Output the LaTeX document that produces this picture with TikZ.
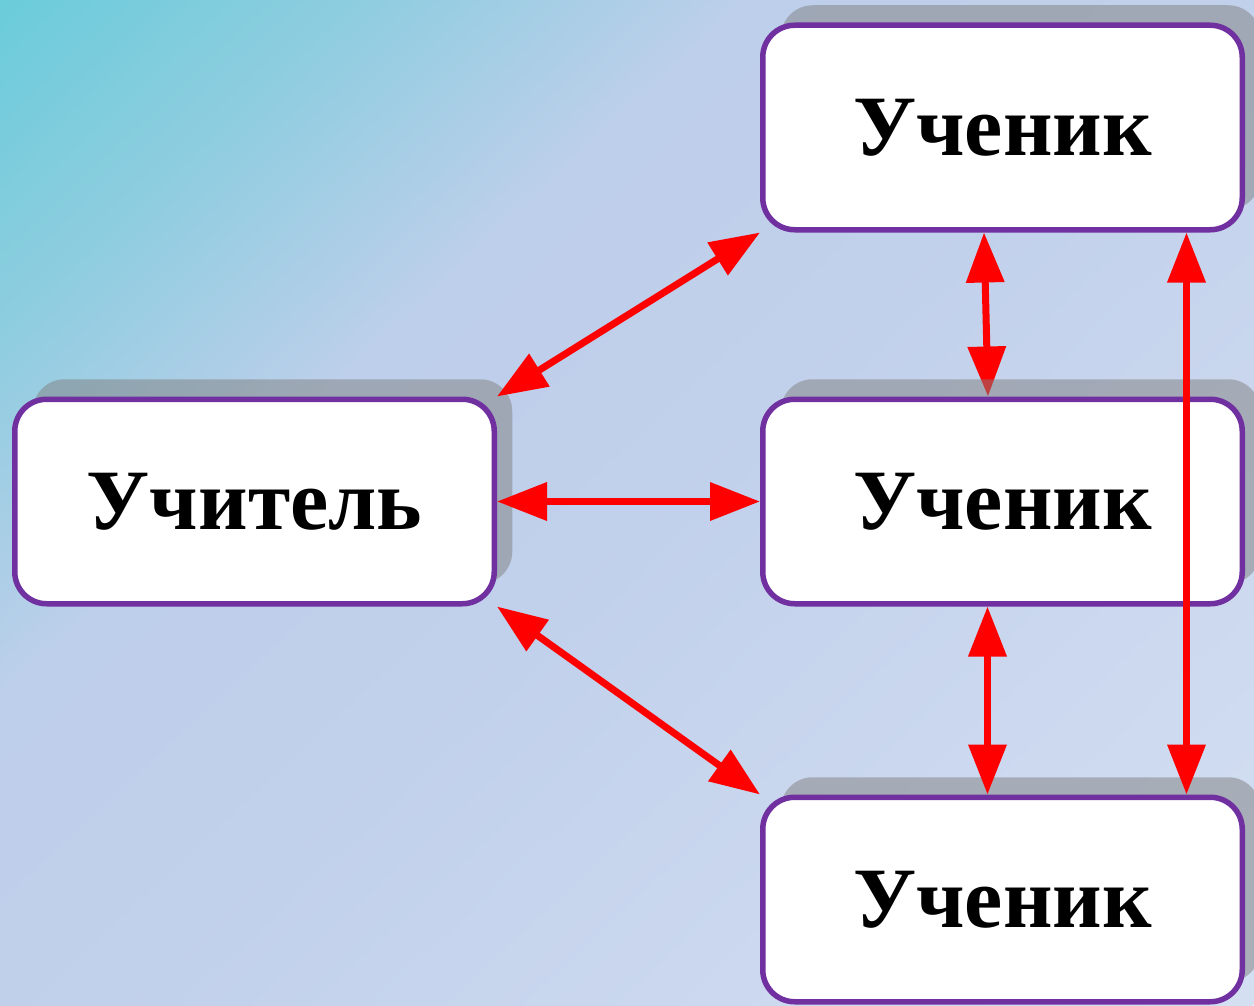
\documentclass[tikz,border=0pt]{standalone}
\usepackage{fontspec}
\setmainfont{Liberation Serif}
\usetikzlibrary{arrows.meta,positioning,shadows,backgrounds}
\definecolor{frame}{RGB}{112,48,160}
\definecolor{bgA}{RGB}{106,204,218}
\definecolor{bgB}{RGB}{144,205,224}
\definecolor{bgC}{RGB}{190,207,235}
\definecolor{bgD}{RGB}{193,208,235}
\definecolor{bgE}{RGB}{212,223,242}
\pgfdeclarehorizontalshading{bgfade}{100bp}{color(0bp)=(bgA); color(25bp)=(bgA); color(33.1bp)=(bgB); color(41.2bp)=(bgC); color(50.2bp)=(bgD); color(75bp)=(bgE); color(100bp)=(bgE)}
\tikzset{
  pupil/.style={draw=frame, line width=2.75pt, fill=white, rounded corners=16pt,
    minimum width=239.75pt, minimum height=102.25pt,
    font=\fontsize{43pt}{50pt}\selectfont\bfseries,
    drop shadow={shadow xshift=9pt, shadow yshift=10pt, fill=gray, opacity=0.5}},
  link/.style={red, line width=3.5pt,
    {Triangle[length=25pt,width=18.5pt]}-{Triangle[length=25pt,width=18.5pt]}}
}
\begin{document}
\begin{tikzpicture}[x=0.5pt,y=-0.5pt]
\useasboundingbox (0,0) rectangle (1254,1006);
\node [pupil] (teacher) at (254.5,501.5) {Учитель};
\node [pupil] (pupilA) at (1002.5,127.5) {Ученик};
\node [pupil] (pupilB) at (1002.5,501.5) {Ученик};
\node [pupil] (pupilC) at (1002.5,899.5) {Ученик};

\begin{scope}[on background layer]
\clip (0,0) rectangle (1254,1006);
\shade [shading=bgfade, transform canvas={rotate around={-47:(0,0)}}] (0,-1100) rectangle (1590,1100);
\draw [link] ([xshift=-9.25pt]pupilA.south) -- ([xshift=-7.25pt]pupilB.north); % under the shadow
\end{scope}

\draw [link] (teacher.north east) -- (pupilA.south west);
\draw [link] (teacher.east) -- (pupilB.west);
\draw [link] (teacher.south east) -- (pupilC.north west);
\draw [link] ([xshift=-7.5pt]pupilB.south) -- ([xshift=-7.5pt]pupilC.north);
\draw [link] ([xshift=92pt]pupilA.south) -- ([xshift=92pt]pupilC.north);
\end{tikzpicture}
\end{document}
